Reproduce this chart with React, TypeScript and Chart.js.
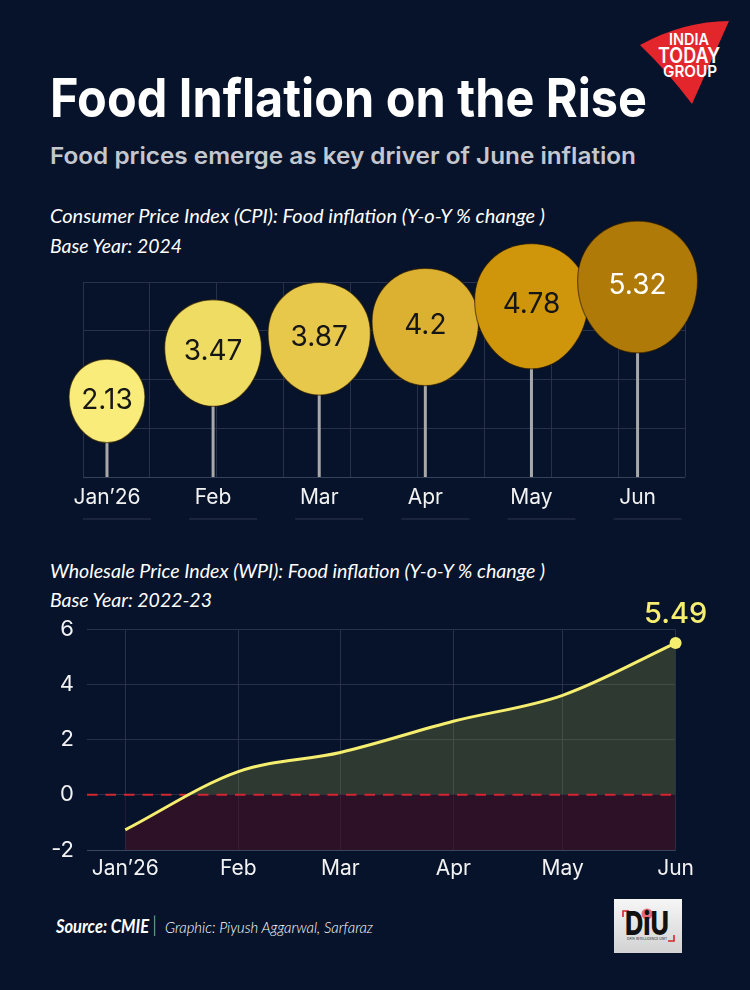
import React, { useEffect, useLayoutEffect, useRef } from "react";
import { Chart, registerables } from "chart.js";
Chart.register(...registerables);

// ---------------- data ----------------
const cpiMonths = ["Jan\u201926", "Feb", "Mar", "Apr", "May", "Jun"];
const cpiValues = [2.13, 3.47, 3.87, 4.2, 4.78, 5.32];
const cpiColors = ["#f9ec7a", "#efdc63", "#e7c84b", "#dcb031", "#cf960c", "#b07a08"];
const cpiLabelColors = ["#161616", "#161616", "#161616", "#161616", "#161616", "#ffffff"];

const wpiMonths = ["Jan\u201926", "Feb", "Mar", "Apr", "May", "Jun"];
const wpiDayOfYear = [0, 31, 59, 90, 120, 151];
const wpiValues = [-1.27, 0.84, 1.53, 2.66, 3.6, 5.49];
const wpiZeroLine = [0, 0, 0, 0, 0, 0];
const wpiYTicks = [-2, 0, 2, 4, 6];

// ---------------- styles ----------------
const BG = "#07132b";
const GRID = "#27314a";
const FONT = "Inter, 'Noto Sans', sans-serif";
const YELLOW = "#f6ee6e";
Chart.defaults.font.family = FONT;

function FitText({ text, left, top, width, style }: any) {
  const ref = useRef<HTMLDivElement>(null);
  useLayoutEffect(() => {
    const measure = () => {
      const el = ref.current;
      if (!el) return;
      el.style.transform = "none";
      const w = el.getBoundingClientRect().width;
      if (w > 0) {
        const s = Math.max(0.6, Math.min(1.4, width / w));
        el.style.transform = `scaleX(${s})`;
      }
    };
    measure();
    if ((document as any).fonts && (document as any).fonts.ready) {
      (document as any).fonts.ready.then(measure);
    }
  }, [text, width]);
  return (
    <div
      ref={ref}
      style={{
        position: "absolute",
        left,
        top,
        whiteSpace: "nowrap",
        display: "inline-block",
        transformOrigin: "left top",
        lineHeight: 1,
        ...style,
      }}
    >
      {text}
    </div>
  );
}

function eggPath(ctx: CanvasRenderingContext2D, cx: number, cy: number, rx: number, ry: number) {
  ctx.beginPath();
  ctx.moveTo(cx, cy - ry);
  ctx.bezierCurveTo(cx + rx * 0.58, cy - ry, cx + rx, cy - ry * 0.6, cx + rx, cy - ry * 0.1);
  ctx.bezierCurveTo(cx + rx, cy + ry * 0.48, cx + rx * 0.55, cy + ry, cx, cy + ry);
  ctx.bezierCurveTo(cx - rx * 0.55, cy + ry, cx - rx, cy + ry * 0.48, cx - rx, cy - ry * 0.1);
  ctx.bezierCurveTo(cx - rx, cy - ry * 0.6, cx - rx * 0.58, cy - ry, cx, cy - ry);
  ctx.closePath();
}

const BALLOON_K = 26; // px radius per sqrt(unit), like a bubble radius

function BalloonChart() {
  const ref = useRef<HTMLCanvasElement>(null);
  useEffect(() => {
    const canvas = ref.current!;
    const balloonPlugin = {
      id: "balloons",
      afterDatasetsDraw(chart: any) {
        const { ctx, scales } = chart;
        const meta = chart.getDatasetMeta(0);
        const baseY = scales.y.getPixelForValue(0);
        ctx.save();
        meta.data.forEach((el: any, i: number) => {
          const rx = BALLOON_K * Math.sqrt(cpiValues[i]);
          const ry = rx * 1.1;
          ctx.strokeStyle = "#a8a8a8";
          ctx.lineWidth = 3;
          ctx.beginPath();
          ctx.moveTo(el.x, el.y + ry - 2);
          ctx.lineTo(el.x, baseY);
          ctx.stroke();
        });
        meta.data.forEach((el: any, i: number) => {
          const rx = BALLOON_K * Math.sqrt(cpiValues[i]);
          const ry = rx * 1.1;
          eggPath(ctx, el.x, el.y, rx, ry);
          ctx.fillStyle = cpiColors[i];
          ctx.fill();
          ctx.strokeStyle = "rgba(40,25,0,0.6)";
          ctx.lineWidth = 1.2;
          ctx.stroke();
          ctx.fillStyle = cpiLabelColors[i];
          ctx.font = `400 28px ${FONT}`;
          ctx.textAlign = "center";
          ctx.textBaseline = "middle";
          ctx.fillText(String(cpiValues[i]), el.x, el.y - ry * 0.02);
        });
        ctx.restore();
      },
      afterDraw(chart: any) {
        const { ctx, scales, chartArea } = chart;
        const x = scales.x;
        ctx.save();
        ctx.strokeStyle = "#222c45";
        ctx.lineWidth = 1.5;
        x.ticks.forEach((t: any) => {
          const px = x.getPixelForValue(t.value);
          ctx.beginPath();
          ctx.moveTo(px - 24, chartArea.bottom + 42);
          ctx.lineTo(px + 44, chartArea.bottom + 42);
          ctx.stroke();
        });
        ctx.restore();
      },
    };
    const chart = new Chart(canvas, {
      type: "scatter",
      data: {
        datasets: [
          {
            data: cpiValues.map((v, i) => ({ x: i, y: v })),
            pointRadius: 0,
            pointHoverRadius: 0,
            showLine: false,
          },
        ],
      },
      options: {
        animation: false,
        responsive: false,
        maintainAspectRatio: false,
        events: [],
        layout: { padding: { left: 83, right: 65, top: 82, bottom: 23 } },
        plugins: { legend: { display: false }, tooltip: { enabled: false } },
        scales: {
          x: {
            type: "linear",
            min: -0.226,
            max: 5.447,
            afterBuildTicks: (s: any) => {
              s.ticks = cpiMonths.map((_, i) => ({ value: i }));
            },
            ticks: {
              callback: (v: any) => cpiMonths[v],
              color: "#f2f2f2",
              font: { size: 21 },
              padding: 8,
              autoSkip: false,
              maxRotation: 0,
            },
            grid: { display: false, drawTicks: false },
            border: { display: false },
            afterFit: (s: any) => {
              s.height = 40;
            },
          },
          xg: {
            type: "linear",
            position: "top",
            min: 0,
            max: 9,
            ticks: { display: false, stepSize: 1 },
            grid: { color: GRID, drawTicks: false },
            border: { display: false },
            afterFit: (s: any) => {
              s.height = 0;
            },
          },
          y: {
            min: 0,
            max: 5.46,
            ticks: { display: false, count: 5 },
            grid: { color: (c: any) => (c.tick && c.tick.value === 0 ? "#36415c" : GRID), drawTicks: false },
            border: { display: false },
            afterFit: (s: any) => {
              s.width = 0;
            },
          },
        },
      } as any,
      plugins: [balloonPlugin],
    });
    return () => chart.destroy();
  }, []);
  return (
    <canvas
      ref={ref}
      width={750}
      height={340}
      style={{ position: "absolute", left: 0, top: 200, width: 750, height: 340 }}
    />
  );
}

function WpiChart() {
  const ref = useRef<HTMLCanvasElement>(null);
  useEffect(() => {
    const canvas = ref.current!;
    const lastIdx = wpiValues.length - 1;
    const plugin = {
      id: "wpiExtras",
      beforeDatasetDraw(chart: any, args: any) {
        if (args.index !== 0) return;
        const { ctx, chartArea, scales } = chart;
        const y0 = scales.y.getPixelForValue(0);
        ctx.save();
        ctx.strokeStyle = "#d42631";
        ctx.lineWidth = 2;
        ctx.setLineDash([10.5, 8]);
        ctx.beginPath();
        ctx.moveTo(chartArea.left, y0);
        ctx.lineTo(chartArea.right, y0);
        ctx.stroke();
        ctx.restore();
      },
      afterDatasetsDraw(chart: any) {
        const { ctx } = chart;
        const el = chart.getDatasetMeta(0).data[lastIdx];
        ctx.save();
        ctx.fillStyle = YELLOW;
        ctx.font = `500 29px ${FONT}`;
        ctx.textAlign = "center";
        ctx.textBaseline = "alphabetic";
        ctx.fillText(String(wpiValues[lastIdx]), el.x, el.y - 20);
        ctx.restore();
      },
    };
    const chart = new Chart(canvas, {
      type: "line",
      data: {
        datasets: [
          {
            data: wpiDayOfYear.map((d, i) => ({ x: d, y: wpiValues[i] })),
            borderColor: YELLOW,
            borderWidth: 3,
            cubicInterpolationMode: "monotone",
            fill: { target: { value: 0 }, above: "rgba(119,129,61,0.35)", below: BG },
            pointRadius: (c: any) => (c.dataIndex === lastIdx ? 6 : 0),
            pointBackgroundColor: YELLOW,
            pointBorderColor: YELLOW,
            pointBorderWidth: 0,
            clip: false,
          },
          {
            data: wpiDayOfYear.map((d, i) => ({ x: d, y: wpiZeroLine[i] })),
            borderWidth: 0,
            borderColor: "rgba(0,0,0,0)",
            pointRadius: 0,
            fill: "start",
            backgroundColor: "rgba(70,17,37,0.62)",
          },
        ],
      },
      options: {
        animation: false,
        responsive: false,
        maintainAspectRatio: false,
        events: [],
        layout: { padding: { left: 27, right: 74.4, top: 39, bottom: 0 } },
        plugins: { legend: { display: false }, tooltip: { enabled: false } },
        scales: {
          x: {
            type: "linear",
            min: -10.5,
            max: 151,
            afterBuildTicks: (s: any) => {
              s.ticks = wpiDayOfYear.map((v) => ({ value: v }));
            },
            ticks: {
              callback: (v: any) => wpiMonths[wpiDayOfYear.indexOf(v)],
              color: "#f2f2f2",
              font: { size: 21 },
              padding: 6,
              autoSkip: false,
              maxRotation: 0,
            },
            grid: { color: GRID, drawTicks: false },
            border: { display: false },
            afterFit: (s: any) => {
              s.height = 40;
            },
          },
          y: {
            min: -2,
            max: 6,
            afterBuildTicks: (s: any) => {
              s.ticks = wpiYTicks.map((v) => ({ value: v }));
            },
            ticks: { color: "#f2f2f2", font: { size: 22 }, padding: 13 },
            grid: {
              color: (c: any) => (c.tick && c.tick.value === -2 ? "#3a4560" : GRID),
              drawTicks: false,
            },
            border: { display: false },
            afterFit: (s: any) => {
              s.width = 60;
            },
          },
        },
      } as any,
      plugins: [plugin],
    });
    return () => chart.destroy();
  }, []);
  return (
    <canvas
      ref={ref}
      width={750}
      height={300}
      style={{ position: "absolute", left: 0, top: 590, width: 750, height: 300 }}
    />
  );
}

function IndiaTodayLogo() {
  return (
    <svg
      style={{ position: "absolute", left: 630, top: 12 }}
      width={115}
      height={100}
      viewBox="630 12 115 100"
    >
      <path d="M640,45 Q684,21 729,21 L692,104 Q668,72 640,45 Z" fill="#e3262c" />
      <g fill="#ffffff" fontFamily="Inter, sans-serif" fontWeight={600}>
        <text x={669} y={45} fontSize={16} textLength={40} lengthAdjust="spacingAndGlyphs">INDIA</text>
        <text x={658} y={63} fontSize={21} textLength={62} lengthAdjust="spacingAndGlyphs">TODAY</text>
        <text x={663} y={77} fontSize={16} textLength={54} lengthAdjust="spacingAndGlyphs">GROUP</text>
      </g>
    </svg>
  );
}

function DiuLogo() {
  return (
    <svg style={{ position: "absolute", left: 614, top: 899 }} width={68} height={54}>
      <defs>
        <linearGradient id="diug" x1="0" y1="0" x2="0" y2="1">
          <stop offset="0" stopColor="#f6f6f6" />
          <stop offset="1" stopColor="#d2d2d2" />
        </linearGradient>
      </defs>
      <rect x={0} y={0} width={68} height={54} fill="url(#diug)" />
      <path d="M9,18 V12 H15" stroke="#d6232c" strokeWidth={1.6} fill="none" />
      <path d="M60,36 V42 H54" stroke="#d6232c" strokeWidth={1.6} fill="none" />
      <circle cx={33} cy={15} r={5.5} fill="#e66b76" />
      <text x={11} y={36} fontSize={32} fontWeight={800} fill="#111" fontFamily="Inter, sans-serif" textLength={44} lengthAdjust="spacingAndGlyphs">DiU</text>
      <text x={13} y={40.5} fontSize={3.6} fill="#222" fontFamily="Inter, sans-serif" textLength={40} lengthAdjust="spacingAndGlyphs">DATA INTELLIGENCE UNIT</text>
    </svg>
  );
}

export default function App() {
  const lato = "Lato, 'Open Sans', sans-serif";
  return (
    <div
      style={{
        position: "fixed",
        left: 0,
        top: 0,
        width: 750,
        height: 990,
        background: BG,
        overflow: "hidden",
        fontFamily: FONT,
      }}
    >
      <IndiaTodayLogo />
      <FitText
        text="Food Inflation on the Rise"
        left={50}
        top={71}
        width={597}
        style={{ fontSize: 54, fontWeight: 700, color: "#ffffff", fontFamily: FONT }}
      />
      <FitText
        text="Food prices emerge as key driver of June inflation"
        left={50}
        top={145}
        width={586}
        style={{ fontSize: 23, fontWeight: 600, color: "#c4c7cd", fontFamily: FONT }}
      />
      <FitText
        text="Consumer Price Index (CPI): Food inflation (Y-o-Y % change )"
        left={50}
        top={206}
        width={495}
        style={{ fontSize: 19, fontStyle: "italic", color: "#ffffff", fontFamily: lato }}
      />
      <FitText
        text="Base Year: 2024"
        left={50}
        top={236}
        width={132}
        style={{ fontSize: 19, fontStyle: "italic", color: "#ffffff", fontFamily: lato }}
      />
      <BalloonChart />
      <FitText
        text="Wholesale Price Index (WPI): Food inflation (Y-o-Y % change )"
        left={50}
        top={561}
        width={495}
        style={{ fontSize: 19, fontStyle: "italic", color: "#ffffff", fontFamily: lato }}
      />
      <FitText
        text="Base Year: 2022-23"
        left={50}
        top={590}
        width={162}
        style={{ fontSize: 19, fontStyle: "italic", color: "#ffffff", fontFamily: lato }}
      />
      <WpiChart />
      <FitText
        text="Source: CMIE"
        left={56}
        top={917}
        width={93}
        style={{ fontSize: 18, fontWeight: 700, fontStyle: "italic", color: "#ffffff", fontFamily: lato }}
      />
      <FitText
        text="|"
        left={153}
        top={913}
        width={3}
        style={{ fontSize: 22, fontWeight: 300, color: "#ffffff", fontFamily: lato }}
      />
      <FitText
        text="Graphic: Piyush Aggarwal, Sarfaraz"
        left={165}
        top={920}
        width={208}
        style={{ fontSize: 15, fontWeight: 300, fontStyle: "italic", color: "#ffffff", fontFamily: lato }}
      />
      <DiuLogo />
    </div>
  );
}
